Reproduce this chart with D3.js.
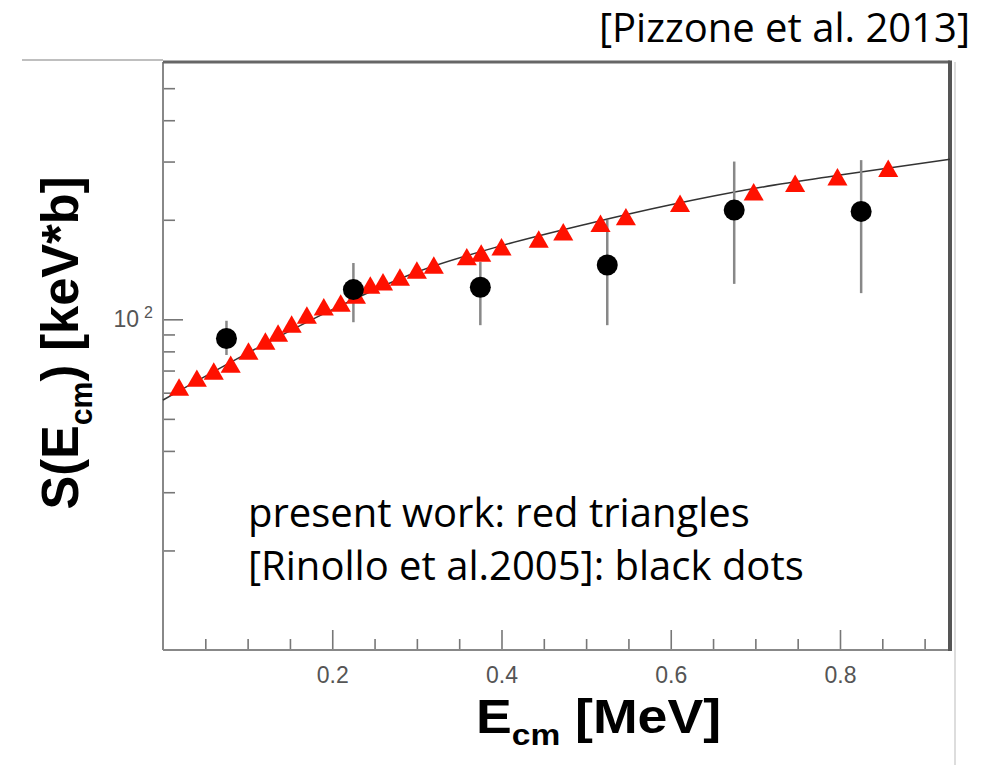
<!DOCTYPE html>
<html>
<head>
<meta charset="utf-8">
<script src="https://cdn.jsdelivr.net/npm/d3@7"></script>
<style>
  body { margin: 0; background: #fff; }
  svg { display: block; }
</style>
</head>
<body>
<div id="chart"></div>
<script>
// present work (red triangles): E_cm [MeV] and S [keV*b]
const triE = [0.019, 0.040, 0.060, 0.080, 0.101, 0.121, 0.136, 0.152, 0.170, 0.190,
              0.210, 0.228, 0.245, 0.260, 0.280, 0.300, 0.320, 0.359, 0.376, 0.400,
              0.444, 0.473, 0.517, 0.547, 0.611, 0.698, 0.747, 0.797, 0.857];
const triS = [62.4, 66.4, 69.8, 73.2, 80.2, 86.0, 90.9, 96.8, 103, 109.2,
              112, 118.4, 127, 129.9, 134.3, 141, 146, 154.7, 158.7, 165.8,
              175, 184.1, 195.2, 204.4, 224.4, 243.2, 258, 270, 286.3];

// [Rinollo et al. 2005] (black dots) with error bars
const dotE = [0.075, 0.225, 0.375, 0.525, 0.675, 0.825];
const dotS = [87.5, 123, 125, 146, 214, 212];
const dotLo = [78, 98, 96, 96, 128, 120];
const dotHi = [99, 148, 149, 200, 300, 303];

// fit curve
const fitE = [0, 0.1, 0.2, 0.3, 0.4, 0.5, 0.6, 0.7, 0.8, 0.93];
const fitS = [57, 79, 107, 139, 167, 194, 222, 249, 273, 305];

// axis ticks
const xMajor = [0.2, 0.4, 0.6, 0.8];
const xMinor = [0.05, 0.1, 0.15, 0.25, 0.3, 0.35, 0.45, 0.5, 0.55, 0.65, 0.7, 0.75, 0.85, 0.9];
const yMajor = [100];
const yMinor = [20, 30, 40, 50, 60, 70, 80, 90, 200, 300, 400, 500];

const width = 989, height = 765;
const frameL = 163, frameR = 950, frameT = 62, frameB = 650;

const svg = d3.select('#chart').append('svg')
  .attr('width', width)
  .attr('height', height);

svg.append('rect').attr('width', width).attr('height', height).attr('fill', '#fff');

const x = d3.scaleLinear().domain([0, 0.93]).range([frameL, frameR]);
const y = d3.scaleLog().domain([10, 600]).range([frameB, frameT]);

// screenshot edges
svg.append('line').attr('x1', 22).attr('x2', frameL).attr('y1', 60).attr('y2', 60)
  .attr('stroke', '#aaa').attr('stroke-width', 1.5);
svg.append('line').attr('x1', 955).attr('x2', 955).attr('y1', frameT).attr('y2', height)
  .attr('stroke', '#bbb').attr('stroke-width', 1);

// ticks
const tickFont = 'Liberation Sans, Arial, sans-serif';

const styleAxis = g => {
  g.select('.domain').remove();
  g.selectAll('.tick line').attr('stroke', '#777').attr('stroke-width', 1.6);
  g.attr('font-family', tickFont).attr('font-size', 23);
  g.selectAll('.tick text').attr('fill', '#555');
};

svg.append('g').attr('transform', `translate(${frameL},0)`)
  .call(d3.axisLeft(y).tickValues(yMinor).tickSize(-12).tickFormat(''))
  .call(styleAxis);

svg.append('g').attr('transform', `translate(${frameL},0)`)
  .call(d3.axisLeft(y).tickValues(yMajor).tickSize(-20).tickPadding(10).tickFormat(() => '10'))
  .call(styleAxis)
  .call(g => g.selectAll('.tick text').append('tspan')
    .attr('dx', 5).attr('dy', '-0.6em').attr('font-size', 16).text('2'));

svg.append('g').attr('transform', `translate(0,${frameB})`)
  .call(d3.axisBottom(x).tickValues(xMinor).tickSize(-11).tickFormat(''))
  .call(styleAxis);

svg.append('g').attr('transform', `translate(0,${frameB})`)
  .call(d3.axisBottom(x).tickValues(xMajor).tickSize(-20).tickPadding(17).tickFormat(d3.format('.1f')))
  .call(styleAxis);

// frame
svg.append('line').attr('x1', frameL).attr('x2', frameL).attr('y1', frameT).attr('y2', frameB)
  .attr('stroke', '#888').attr('stroke-width', 2);
svg.append('line').attr('x1', frameL).attr('x2', frameR).attr('y1', frameB).attr('y2', frameB)
  .attr('stroke', '#888').attr('stroke-width', 2);
svg.append('line').attr('x1', frameL).attr('x2', frameR).attr('y1', frameT).attr('y2', frameT)
  .attr('stroke', '#666').attr('stroke-width', 3);
svg.append('line').attr('x1', frameR).attr('x2', frameR).attr('y1', frameT - 1.5).attr('y2', frameB + 1)
  .attr('stroke', '#555').attr('stroke-width', 4);

// fit curve
const fit = fitE.map((e, i) => ({ e, s: fitS[i] }));
svg.append('path')
  .datum(fit)
  .attr('fill', 'none')
  .attr('stroke', '#333')
  .attr('stroke-width', 1.5)
  .attr('d', d3.line().x(d => x(d.e)).y(d => y(d.s)).curve(d3.curveMonotoneX));

// error bars + black dots
const dots = dotE.map((e, i) => ({ e, s: dotS[i], lo: dotLo[i], hi: dotHi[i] }));
svg.append('g')
  .selectAll('line')
  .data(dots)
  .join('line')
  .attr('x1', d => x(d.e)).attr('x2', d => x(d.e))
  .attr('y1', d => y(d.lo)).attr('y2', d => y(d.hi))
  .attr('stroke', '#888').attr('stroke-width', 2.5);

// triangles (centred on their bounding box)
const triangle = {
  draw(context, size) {
    const a = Math.sqrt(size * 4 / Math.sqrt(3));
    const h = a * Math.sqrt(3) / 2;
    context.moveTo(0, -h / 2);
    context.lineTo(a / 2, h / 2);
    context.lineTo(-a / 2, h / 2);
    context.closePath();
  }
};
const tris = triE.map((e, i) => ({ e, s: triS[i] }));
svg.append('g')
  .selectAll('path')
  .data(tris)
  .join('path')
  .attr('transform', d => `translate(${x(d.e)},${y(d.s)})`)
  .attr('d', d3.symbol().type(triangle).size(175))
  .attr('fill', '#ff1100');

svg.append('g')
  .selectAll('circle')
  .data(dots)
  .join('circle')
  .attr('cx', d => x(d.e)).attr('cy', d => y(d.s))
  .attr('r', 10.5)
  .attr('fill', '#000');

// axis titles
const titleFont = 'Liberation Sans, Arial, sans-serif';

const yTitle = svg.append('text')
  .attr('transform', 'translate(78,343) rotate(-90)')
  .attr('text-anchor', 'middle')
  .attr('font-family', titleFont)
  .attr('font-weight', 'bold')
  .attr('font-size', 52)
  .attr('textLength', 333)
  .attr('lengthAdjust', 'spacingAndGlyphs')
  .attr('fill', '#000');
yTitle.append('tspan').text('S(E');
yTitle.append('tspan').attr('font-size', 31).attr('dy', 14).text('cm');
yTitle.append('tspan').attr('dy', -14).text(') [keV*b]');

const xTitle = svg.append('text')
  .attr('x', 476).attr('y', 733)
  .attr('font-family', titleFont)
  .attr('font-weight', 'bold')
  .attr('font-size', 48)
  .attr('textLength', 245)
  .attr('lengthAdjust', 'spacingAndGlyphs')
  .attr('fill', '#000');
xTitle.append('tspan').text('E');
xTitle.append('tspan').attr('font-size', 30).attr('dy', 12).text('cm');
xTitle.append('tspan').attr('dy', -12).text(' [MeV]');

// annotations
const noteFont = 'Open Sans, Noto Sans, sans-serif';

svg.append('text')
  .attr('x', 970).attr('y', 42)
  .attr('text-anchor', 'end')
  .attr('font-family', noteFont)
  .attr('font-size', 40)
  .attr('fill', '#000')
  .text('[Pizzone et al. 2013]');

svg.append('text')
  .attr('x', 248).attr('y', 527)
  .attr('font-family', noteFont)
  .attr('font-size', 40)
  .attr('fill', '#000')
  .text('present work: red triangles');

svg.append('text')
  .attr('x', 248).attr('y', 580)
  .attr('font-family', noteFont)
  .attr('font-size', 40)
  .attr('fill', '#000')
  .text('[Rinollo et al.2005]: black dots');
</script>
</body>
</html>
